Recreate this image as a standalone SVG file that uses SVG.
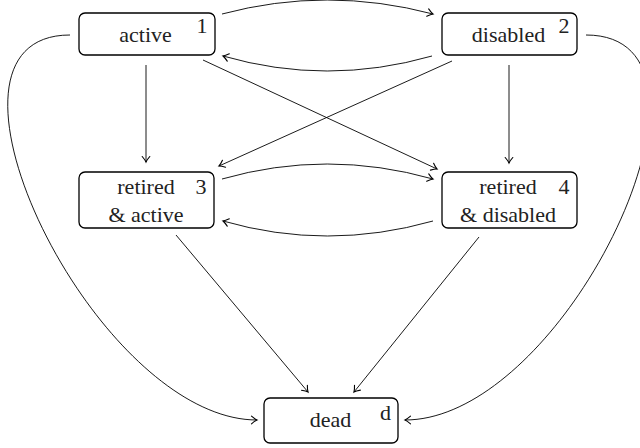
<svg xmlns="http://www.w3.org/2000/svg" width="640" height="448" viewBox="0 0 640 448">
<defs>
<marker id="arr" markerUnits="userSpaceOnUse" markerWidth="12" markerHeight="12" viewBox="-8 -6 10 12" refX="0" refY="0" orient="auto" overflow="visible">
<path d="M-5.5,-3.8 Q-2,-0.8 0,0 Q-2,0.8 -5.5,3.8" fill="none" stroke="#000" stroke-width="1.1" stroke-linecap="round"/>
</marker>
<style>
.box{fill:#fff;stroke:#000;stroke-width:1.3}
.t{font-family:'Liberation Serif','Tinos','Times New Roman','Noto Serif','DejaVu Serif',Times,serif;font-size:22px;fill:#222;text-anchor:middle}
.e{fill:none;stroke:#000;stroke-width:0.9;marker-end:url(#arr)}
</style>
</defs>
<g id="connectors">
<path class="e" d="M222,14 Q327,-14 433,14"/>
<path class="e" d="M432,56 Q327,86 223,56"/>
<path class="e" d="M222,179 Q327,149 433,179"/>
<path class="e" d="M433,221 Q327,251 223,221"/>
<path class="e" d="M146,65 L146,162"/>
<path class="e" d="M509,65 L509,163"/>
<path class="e" d="M203,60 L437,169"/>
<path class="e" d="M452,61 L219,166"/>
<path class="e" d="M176,235 L308,392"/>
<path class="e" d="M479,237 L354,392"/>
<path class="e" d="M70,35 C-92,35 95,420 257,420"/>
<path class="e" d="M586,35 C748,35 567,420 405,420"/>
</g>
<g id="n1">
<rect class="box" x="79" y="13" width="136" height="42" rx="6"/>
<text class="t" x="145.5" y="42">active</text>
<text class="t" x="202" y="33">1</text>
</g>
<g id="n2">
<rect class="box" x="442" y="13" width="135" height="42" rx="6"/>
<text class="t" x="508.5" y="42">disabled</text>
<text class="t" x="564" y="33">2</text>
</g>
<g id="n3">
<rect class="box" x="79" y="172" width="135" height="56" rx="6"/>
<text class="t" x="146" y="194">retired</text>
<text class="t" x="201" y="194">3</text>
<text class="t" x="146" y="222">&amp; active</text>
</g>
<g id="n4">
<rect class="box" x="442" y="172" width="135" height="56" rx="6"/>
<text class="t" x="508" y="194">retired</text>
<text class="t" x="564" y="194">4</text>
<text class="t" x="508" y="222">&amp; disabled</text>
</g>
<g id="nd">
<rect class="box" x="264" y="398" width="134" height="45" rx="6"/>
<text class="t" x="330.5" y="427">dead</text>
<text class="t" x="385.5" y="420">d</text>
</g>
</svg>
